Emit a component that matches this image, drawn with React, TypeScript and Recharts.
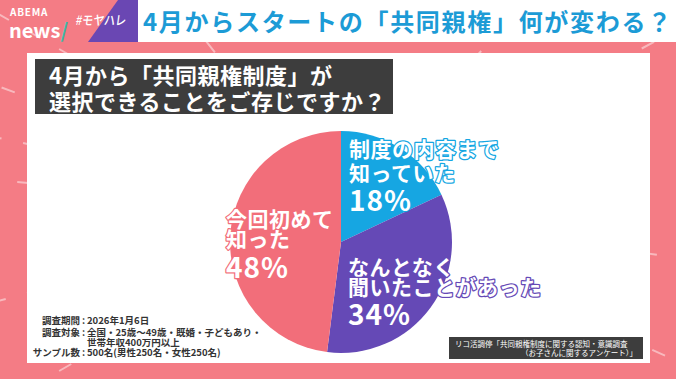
import { PieChart, Pie, Cell } from 'recharts'

const categories = ['制度の内容まで知っていた', 'なんとなく聞いたことがあった', '今回初めて知った']
const labelLines = [
  ['制度の内容まで', '知っていた'],
  ['なんとなく', '聞いたことがあった'],
  ['今回初めて', '知った'],
]
const shares = [18, 34, 48]
const sliceColors = ['#16A6E2', '#6549B6', '#F26E7A']

const noteRows = [
  ['調査期間', '2026年1月6日'],
  ['調査対象', '全国・25歳〜49歳・既婚・子どもあり・'],
  ['', '世帯年収400万円以上'],
  ['サンプル数', '500名(男性250名・女性250名)'],
]
const noteRowHeights = [13, 10, 10, 11]

const data = categories.map((name, i) => ({ name, value: shares[i], lines: labelLines[i] }))

// where each label block sits, relative to the pie centre
const labelSpots = [
  { dx: 8, ys: [-94, -70, -43] },
  { dx: 7, ys: [24, 44, 71] },
  { dx: -115, ys: [-24, -4, 24] },
]

const FONT = '"Noto Sans CJK JP", "Noto Sans", sans-serif'

function SliceLabel(props: any) {
  const { cx, cy, index, value, payload } = props
  const spot = labelSpots[index]
  const color = sliceColors[index]
  const lines: string[] = payload?.lines ?? labelLines[index]
  return (
    <text
      fill="#fff"
      stroke={color}
      strokeWidth={2.5}
      paintOrder="stroke"
      strokeLinejoin="round"
      fontFamily={FONT}
      fontWeight={700}
      textAnchor="start"
      dominantBaseline="central"
    >
      {lines.map((t, i) => (
        <tspan key={i} x={cx + spot.dx} y={cy + spot.ys[i]} fontSize={21} letterSpacing={0.5}>
          {t}
        </tspan>
      ))}
      <tspan x={cx + spot.dx} y={cy + spot.ys[2]} fontSize={28} letterSpacing={1}>
        {value}%
      </tspan>
    </text>
  )
}

function Backdrop() {
  // faint dashed rays behind the panel
  const rays = [-168, -150, -128, -112, -98, -80, -62, -48, -28, 8, 24, 62, 80, 100, 120, 150, 165, 185, 200]
  return (
    <svg width={676} height={379} style={{ position: 'absolute', left: 0, top: 0 }}>
      <rect width={676} height={379} fill="#F47C85" />
      {rays.map((a) => {
        const r = (a * Math.PI) / 180
        return (
          <line
            key={a}
            x1={338 + Math.cos(r) * 200}
            y1={210 + Math.sin(r) * 200}
            x2={338 + Math.cos(r) * 420}
            y2={210 + Math.sin(r) * 420}
            stroke="#FBD3D6"
            strokeWidth={2}
            strokeDasharray="14 22"
            opacity={0.7}
          />
        )
      })}
    </svg>
  )
}

export default function App() {
  return (
    <div
      style={{
        position: 'absolute',
        left: 0,
        top: 0,
        width: 676,
        height: 379,
        overflow: 'hidden',
        fontFamily: FONT,
      }}
    >
      <Backdrop />

      {/* top bar */}
      <svg width={676} height={44} style={{ position: 'absolute', left: 0, top: 0 }}>
        <polygon points="118,0 140,0 140,42 88,42" fill="#6A47B3" />
        <rect x={138} y={0} width={538} height={42} fill="#fff" />
      </svg>
      <div
        style={{
          position: 'absolute',
          left: 10,
          top: 6,
          fontSize: 10,
          fontWeight: 700,
          letterSpacing: 0.8,
          color: '#fff',
          lineHeight: '11px',
        }}
      >
        ABEMA
      </div>
      <div
        style={{
          position: 'absolute',
          left: 9,
          top: 20,
          fontSize: 20,
          fontWeight: 700,
          color: '#fff',
          lineHeight: '20px',
        }}
      >
        news<span style={{ color: '#3FB8A6' }}>/</span>
      </div>
      <div
        style={{
          position: 'absolute',
          left: 76,
          top: 12,
          fontSize: 13,
          color: '#fff',
          fontWeight: 500,
          lineHeight: '16px',
          whiteSpace: 'nowrap',
          transform: 'skewX(-8deg) scaleX(0.85)',
          transformOrigin: 'left center',
        }}
      >
        #モヤハレ
      </div>
      <div
        style={{
          position: 'absolute',
          left: 143,
          top: 5,
          fontSize: 24,
          fontWeight: 700,
          color: '#1C9BD6',
          lineHeight: '32px',
          whiteSpace: 'nowrap',
          letterSpacing: 1.7,
        }}
      >
        4月からスタートの「共同親権」何が変わる？
      </div>

      {/* white panel */}
      <div
        style={{
          position: 'absolute',
          left: 27,
          top: 53,
          width: 623,
          height: 310,
          background: '#fff',
        }}
      />

      {/* question box */}
      <div
        style={{
          position: 'absolute',
          left: 35,
          top: 59,
          width: 358,
          height: 55,
          background: '#3D3D3D',
          color: '#fff',
          fontSize: 22,
          fontWeight: 700,
          lineHeight: '26px',
          padding: '2px 0 0 14px',
          boxSizing: 'border-box',
          whiteSpace: 'nowrap',
          letterSpacing: 0.5,
        }}
      >
        <div>4月から「共同親権制度」が</div>
        <div>選択できることをご存じですか？</div>
      </div>

      <PieChart width={676} height={379} style={{ position: 'absolute', left: 0, top: 0 }}>
        <Pie
          data={data}
          dataKey="value"
          nameKey="name"
          cx={336}
          cy={237}
          outerRadius={111}
          startAngle={90}
          endAngle={-270}
          stroke="none"
          labelLine={false}
          label={SliceLabel}
          isAnimationActive={false}
        >
          {data.map((d, i) => (
            <Cell key={d.name} fill={sliceColors[i]} />
          ))}
        </Pie>
      </PieChart>

      {/* survey notes */}
      <div
        style={{
          position: 'absolute',
          left: 28,
          top: 314,
          fontSize: 9.5,
          fontWeight: 700,
          color: '#333',
        }}
      >
        {noteRows.map(([k, v], i) => (
          <div
            key={i}
            style={{ display: 'flex', whiteSpace: 'nowrap', height: noteRowHeights[i], lineHeight: `${noteRowHeights[i]}px` }}
          >
            <span style={{ width: 52, textAlign: 'right' }}>{k}</span>
            <span style={{ width: 7, textAlign: 'center' }}>{k ? ':' : ''}</span>
            <span>{v}</span>
          </div>
        ))}
      </div>

      {/* source */}
      <div
        style={{
          position: 'absolute',
          left: 449,
          top: 337,
          width: 194,
          height: 22,
          background: '#3D3D3D',
          color: '#fff',
          fontSize: 7.5,
          lineHeight: '9px',
          padding: '2px 6px 0 6px',
          boxSizing: 'border-box',
          whiteSpace: 'nowrap',
        }}
      >
        <div>リコ活調停「共同親権制度に関する認知・意識調査</div>
        <div style={{ textAlign: 'right' }}>（お子さんに関するアンケート）」</div>
      </div>
    </div>
  )
}
